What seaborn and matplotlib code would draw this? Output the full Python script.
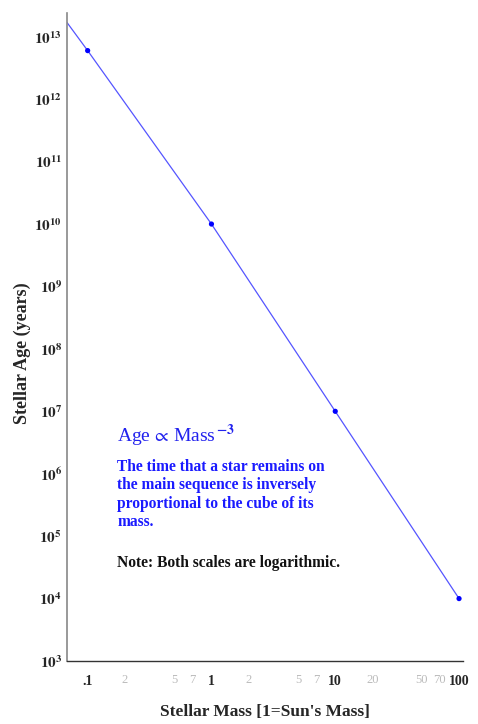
import numpy as np
import pandas as pd
import matplotlib
matplotlib.use("Agg")
import matplotlib.pyplot as plt
import matplotlib.ticker as mticker
import seaborn as sns

# data
mass = [0.1, 1, 10, 100]
age = [6e12, 1e10, 1e7, 1e4]
# the drawn line runs on up to the top-left corner of the axes
line_mass = [0.068, 0.1, 1, 10, 100]
line_age = [1.7e13, 6e12, 1e10, 1e7, 1e4]

major_x = [0.1, 1, 10, 100]
major_x_labels = [".1", "1", "10", "100"]
minor_x = [0.2, 0.5, 0.7, 2, 5, 7, 20, 50, 70]
minor_x_labels = ["2", "5", "7", "2", "5", "7", "20", "50", "70"]
y_exponents = list(range(3, 14))

sns.set_theme(style="white")
plt.rcParams["font.family"] = ["Liberation Serif", "DejaVu Serif"]
plt.rcParams["mathtext.fontset"] = "stix"

fig = plt.figure(figsize=(4.78, 7.24), dpi=100)
ax = fig.add_axes([0.140, 0.087, 0.829, 0.895])

pts = pd.DataFrame({"mass": mass, "age": age})
line = pd.DataFrame({"mass": line_mass, "age": line_age})
sns.lineplot(data=line, x="mass", y="age", ax=ax, color="#5555ff", lw=0.9, sort=False)
sns.scatterplot(data=pts, x="mass", y="age", ax=ax, color="#0000ff", s=14, edgecolor="none", zorder=3)

ax.set_xscale("log")
ax.set_yscale("log")
ax.set_xlim(0.068, 108)
ax.set_ylim(1e3, 2.4e13)

for s in ["top", "right"]:
    ax.spines[s].set_visible(False)
ax.spines["left"].set_color("#888888")
ax.spines["bottom"].set_color("#333333")
ax.spines["left"].set_linewidth(1.2)
ax.spines["bottom"].set_linewidth(1.0)

# x ticks
ax.xaxis.set_major_locator(mticker.FixedLocator(major_x))
ax.xaxis.set_major_formatter(mticker.FixedFormatter(major_x_labels))
ax.xaxis.set_minor_locator(mticker.FixedLocator(minor_x))
ax.xaxis.set_minor_formatter(mticker.FixedFormatter(minor_x_labels))
ax.tick_params(axis="x", which="major", direction="out", length=4, width=1,
               color="#333333", labelsize=10, pad=6)
ax.tick_params(axis="x", which="minor", direction="out", length=2.5, width=0.8,
               color="#555555", labelsize=9, labelcolor="#bbbbbb", pad=7)
for t in ax.get_xticklabels():
    t.set_fontweight("bold")

# y ticks
ax.yaxis.set_major_locator(mticker.FixedLocator([10.0 ** e for e in y_exponents]))
ax.yaxis.set_major_formatter(mticker.FuncFormatter(
    lambda v, p: r"$\mathbf{10^{%d}}$" % int(round(np.log10(v)))))
ax.yaxis.set_minor_locator(mticker.LogLocator(base=10, subs=np.arange(2, 10), numticks=20))
ax.yaxis.set_minor_formatter(mticker.NullFormatter())
ax.tick_params(axis="y", which="major", direction="inout", length=5, width=0.8,
               color="#777777", labelsize=11, pad=1)
ax.tick_params(axis="y", which="minor", direction="inout", length=3, width=0.6,
               color="#999999")

ax.set_xlabel("Stellar Mass [1=Sun's Mass]", fontsize=12.5, fontweight="bold")
ax.xaxis.set_label_coords(0.5, -0.066)
ax.set_ylabel("Stellar Age (years)", fontsize=13, fontweight="bold")
ax.yaxis.set_label_coords(-0.09, 0.475)

ax.text(0.127, 0.347, r"Age$\,\propto\,$Mass$^{\,\mathbf{-3}}$", transform=ax.transAxes,
        color="#2222ee", fontsize=14, va="center")
ax.text(0.127, 0.312,
        "The time that a star remains on\nthe main sequence is inversely\n"
        "proportional to the cube of its\nmass.",
        transform=ax.transAxes, color="#1a1aff", fontsize=11.2, fontweight="bold",
        va="top", linespacing=1.2)
ax.text(0.127, 0.151, "Note: Both scales are logarithmic.", transform=ax.transAxes,
        color="#111111", fontsize=11.2, fontweight="bold", va="center")

fig.savefig("out.png", dpi=100)
